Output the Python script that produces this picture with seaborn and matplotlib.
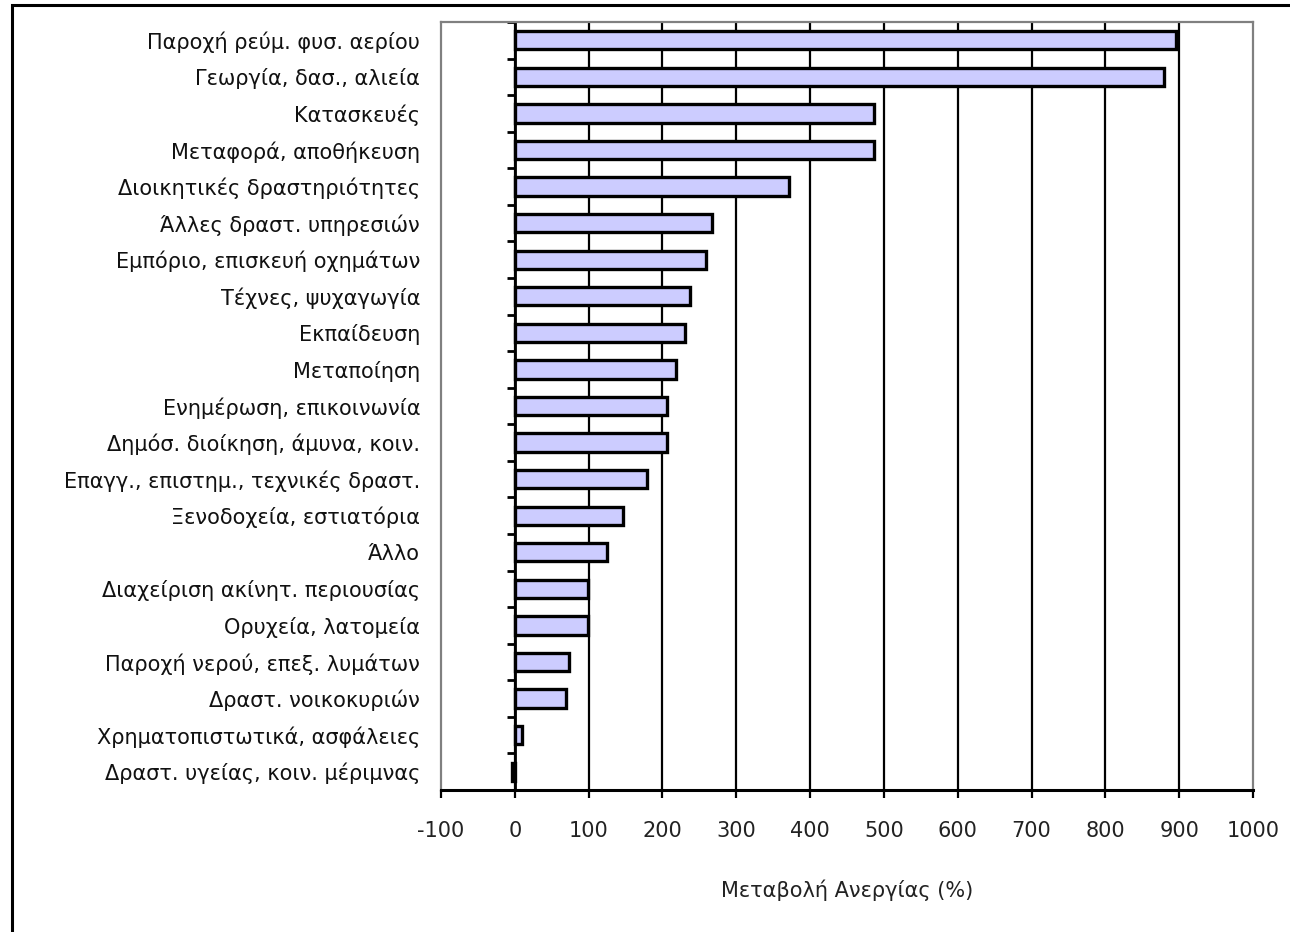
import matplotlib
matplotlib.use("Agg")
import matplotlib.pyplot as plt
import matplotlib.patches as mpatches
import seaborn as sns
import pandas as pd
import numpy as np

categories = [
    "Παροχή ρεύμ. φυσ. αερίου",
    "Γεωργία, δασ., αλιεία",
    "Κατασκευές",
    "Μεταφορά, αποθήκευση",
    "Διοικητικές δραστηριότητες",
    "Άλλες δραστ. υπηρεσιών",
    "Εμπόριο, επισκευή οχημάτων",
    "Τέχνες, ψυχαγωγία",
    "Εκπαίδευση",
    "Μεταποίηση",
    "Ενημέρωση, επικοινωνία",
    "Δημόσ. διοίκηση, άμυνα, κοιν.",
    "Επαγγ., επιστημ., τεχνικές δραστ.",
    "Ξενοδοχεία, εστιατόρια",
    "Άλλο",
    "Διαχείριση ακίνητ. περιουσίας",
    "Ορυχεία, λατομεία",
    "Παροχή νερού, επεξ. λυμάτων",
    "Δραστ. νοικοκυριών",
    "Χρηματοπιστωτικά, ασφάλειες",
    "Δραστ. υγείας, κοιν. μέριμνας",
]
values = [896, 879, 487, 487, 372, 267, 259, 237, 231, 218, 206, 206,
          179, 147, 125, 99, 99, 73, 69, 10, -4]
xticks = list(range(-100, 1001, 100))
xlabel = "Μεταβολή Ανεργίας (%)"

sns.set_theme(style="white")
plt.rcParams["font.family"] = ["DejaVu Sans"]

df = pd.DataFrame({"cat": categories, "val": values})

fig = plt.figure(figsize=(12.9, 9.32), dpi=100)
ax = fig.add_axes([441/1290, 1-790/932, (1253-441)/1290, (790-22)/932])

sns.barplot(data=df, y="cat", x="val", orient="h", color="#ccccff",
            saturation=1, width=0.5, edgecolor="black", linewidth=2.4, ax=ax)

ax.set_xlim(-100, 1000)
ax.set_ylim(len(categories) - 0.5, -0.5)
ax.set_xticks(xticks)
ax.set_xticklabels([str(t) for t in xticks])
ax.set_axisbelow(True)
ax.grid(axis="x", color="black", linewidth=1.6)
ax.grid(axis="y", visible=False)
gl = ax.xaxis.get_gridlines()
gl[0].set_visible(False)
gl[-1].set_visible(False)

ax.set_ylabel("")
ax.set_xlabel(xlabel, fontsize=15, labelpad=28, color="#222222")
ax.tick_params(axis="y", length=0, pad=15, labelsize=15, labelcolor="#111111")
ax.tick_params(axis="x", direction="out", length=6, width=1.6, color="black",
               pad=16, labelsize=15, labelcolor="#222222", bottom=True)

for side in ["left", "top", "right"]:
    ax.spines[side].set_color("#808080")
    ax.spines[side].set_linewidth(1.6)
ax.spines["bottom"].set_color("black")
ax.spines["bottom"].set_linewidth(2.2)

# zero axis with category-boundary ticks
sec = ax.secondary_yaxis(1/11)
sec.set_yticks(np.arange(-0.5, len(categories), 1.0))
sec.tick_params(axis="y", direction="out", length=6, width=2, color="black",
                labelleft=False, left=True)
sec.spines["left"].set_color("black")
sec.spines["left"].set_linewidth(2)

# figure border
rect = mpatches.Rectangle((12/1290, -0.05), 1.1, 0.05 + (1 - 5/932),
                          transform=fig.transFigure, fill=False,
                          edgecolor="black", linewidth=2.2, clip_on=False)
fig.patches.append(rect)

fig.savefig("out.png", dpi=100)
